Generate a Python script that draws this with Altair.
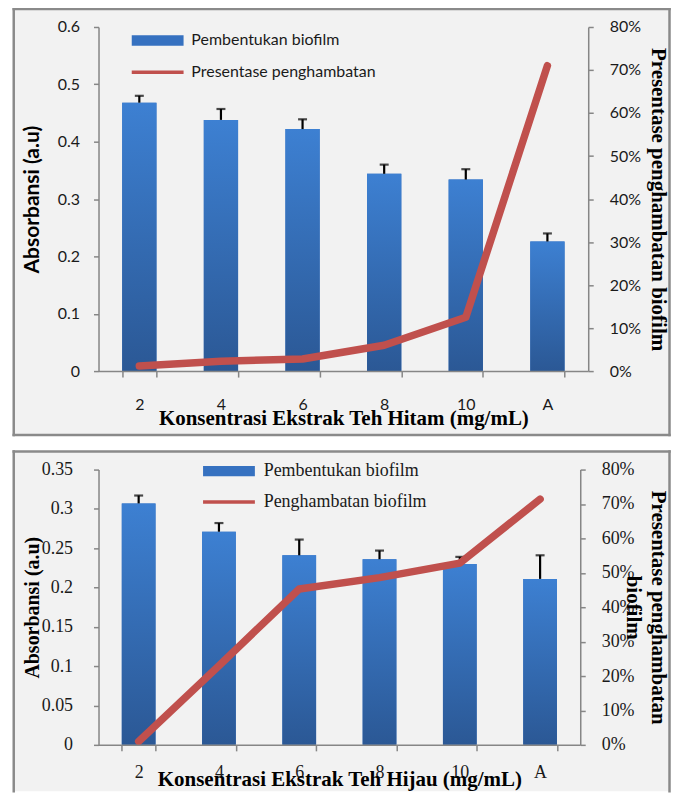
import altair as alt
import pandas as pd

categories = ["2", "4", "6", "8", "10", "A"]

hitam_absorbansi = [0.468, 0.438, 0.422, 0.344, 0.334, 0.226]
hitam_error = [0.012, 0.019, 0.017, 0.016, 0.018, 0.014]
hitam_hambat = [1.2, 2.3, 2.8, 6.0, 12.5, 71.0]

hijau_absorbansi = [0.307, 0.271, 0.241, 0.236, 0.230, 0.211]
hijau_error = [0.010, 0.011, 0.020, 0.011, 0.009, 0.030]
hijau_hambat = [1.0, 23.0, 45.3, 48.6, 52.8, 71.4]

left_ticks_1 = [0, 0.1, 0.2, 0.3, 0.4, 0.5, 0.6]
left_ticks_2 = [0, 0.05, 0.1, 0.15, 0.2, 0.25, 0.3, 0.35]
right_ticks = [0, 10, 20, 30, 40, 50, 60, 70, 80]

BLUE_TOP = "#3d80d2"
BLUE_BOTTOM = "#2b5895"
BLUE_LEGEND = "#3671c0"
RED = "#c0504d"
AXIS_GRAY = "#868686"
PANEL_BG = "#f2f2f2"
PANEL_BORDER = "#8a8a8a"
TEXT = "#1a1a1a"

SANS = "Lato"
SERIF = "Liberation Serif"

bar_gradient = alt.Gradient(
    gradient="linear",
    stops=[alt.GradientStop(color=BLUE_TOP, offset=0),
           alt.GradientStop(color=BLUE_BOTTOM, offset=1)],
    x1=0, x2=0, y1=0, y2=1,
)

RECT_PATH = "M-5,-1H5V1H-5Z"
LINE_PATH = "M-5,0H5"

one_row = pd.DataFrame({"panel": [0]})


def make_panel(absorb, err, hambat, p):
    df = pd.DataFrame({
        "kategori": categories,
        "absorbansi": absorb,
        "atas": [a + e for a, e in zip(absorb, err)],
        "hambat": hambat,
        "seri_bar": [p["bar_label"]] * len(categories),
        "seri_garis": [p["line_label"]] * len(categories),
    })
    base = alt.Chart(df)

    x_axis = alt.Axis(
        orient="bottom", labelAngle=0, tickBand="extent", tickSize=6,
        tickColor=AXIS_GRAY, tickWidth=1.5, domainColor=AXIS_GRAY, domainWidth=1.5,
        labelFont=p["tick_font"], labelFontSize=p["tick_size"], labelColor=TEXT,
        labelPadding=p["x_label_pad"], labelOverlap=False,
        title=p["x_title"], titleFont=SERIF, titleFontSize=21, titleFontWeight="bold",
        titleColor="#000000", titleY=p["x_title_y"], titleBaseline="middle",
        zindex=1,
    )
    x_enc = alt.X("kategori:N", sort=categories,
                  scale=alt.Scale(paddingInner=0.58, paddingOuter=0.29),
                  axis=x_axis)

    left_axis = alt.Axis(
        orient="left", values=p["left_ticks"], format=p["left_fmt"], grid=False,
        labelOverlap=False,
        tickSize=5, tickColor=AXIS_GRAY, tickWidth=1.5, domainColor=AXIS_GRAY, domainWidth=1.5,
        labelFont=p["tick_font"], labelFontSize=p["tick_size"], labelColor=TEXT,
        labelPadding=p["left_label_pad"],
        title=p["left_title"], titleFont=p["left_title_font"], titleFontSize=p["left_title_size"],
        titleFontWeight="bold", titleColor="#000000", titleAngle=270,
        titleX=p["left_title_x"], titleBaseline="middle", zindex=1,
    )
    left_scale = alt.Scale(domain=p["left_domain"], nice=False)

    right_axis = alt.Axis(
        orient="right", values=right_ticks, labelExpr="datum.value + '%'", grid=False,
        labelOverlap=False,
        tickSize=5, tickColor=AXIS_GRAY, tickWidth=1.5, domainColor=AXIS_GRAY, domainWidth=1.5,
        labelFont=p["tick_font"], labelFontSize=p["tick_size"], labelColor=TEXT, labelPadding=16,
        title=p["right_title"], titleFont=SERIF, titleFontSize=21, titleFontWeight="bold",
        titleColor="#000000", titleAngle=90, titleX=p["right_title_x"], titleBaseline="middle",
        titleLineHeight=25, zindex=1,
    )

    bx0, bx1, by0, by1 = p["box"]
    frame = alt.Chart(one_row)
    background = frame.mark_rect(fill=PANEL_BG, strokeWidth=0).encode(
        x=alt.value(bx0), x2=alt.value(bx1), y=alt.value(by0), y2=alt.value(by1))
    border_kw = dict(color=PANEL_BORDER, strokeWidth=2.5, strokeCap="square")
    border_left = frame.mark_rule(**border_kw).encode(
        x=alt.value(bx0), y=alt.value(by0), y2=alt.value(by1))
    border_right = frame.mark_rule(**border_kw).encode(
        x=alt.value(bx1), y=alt.value(by0), y2=alt.value(by1))
    border_top = frame.mark_rule(**border_kw).encode(
        x=alt.value(bx0), x2=alt.value(bx1), y=alt.value(by0))
    frame_layers = [background, border_left, border_right, border_top]
    if p["bottom_border"]:
        frame_layers.append(frame.mark_rule(**border_kw).encode(
            x=alt.value(bx0), x2=alt.value(bx1), y=alt.value(by1)))

    legend_bar = alt.Legend(
        orient="none", legendX=p["legend_x"], legendY=p["legend_y_bar"], title=None,
        symbolType=RECT_PATH, symbolSize=108, symbolStrokeWidth=0, symbolOpacity=1,
        labelFont=p["legend_font"], labelFontSize=p["legend_size"], labelColor=TEXT,
        labelOffset=25.8, labelLimit=400, padding=0,
    )
    legend_line = alt.Legend(
        orient="none", legendX=p["legend_x"], legendY=p["legend_y_line"], title=None,
        symbolType=LINE_PATH, symbolSize=108, symbolStrokeWidth=3.5, symbolOpacity=1,
        labelFont=p["legend_font"], labelFontSize=p["legend_size"], labelColor=TEXT,
        labelOffset=25.8, labelLimit=400, padding=0,
    )

    bars_legend = base.mark_bar().encode(
        x=x_enc,
        y=alt.Y("absorbansi:Q", scale=left_scale, axis=left_axis),
        fill=alt.Fill("seri_bar:N", scale=alt.Scale(range=[BLUE_LEGEND]), legend=legend_bar),
    )
    bars = base.mark_bar(fill=bar_gradient).encode(
        x=x_enc, y=alt.Y("absorbansi:Q", scale=left_scale, axis=left_axis))
    err_rule = base.mark_rule(color="#000000", strokeWidth=2.2).encode(
        x=x_enc, y=alt.Y("absorbansi:Q", scale=left_scale, axis=left_axis), y2="atas:Q")
    err_cap = base.mark_tick(color="#000000", thickness=2.2, size=9).encode(
        x=x_enc, y=alt.Y("atas:Q", scale=left_scale, axis=left_axis))

    left_layer = alt.layer(bars_legend, bars, err_rule, err_cap)

    line = base.mark_line(strokeWidth=7.5, strokeCap="round", strokeJoin="round").encode(
        x=x_enc,
        y=alt.Y("hambat:Q", scale=alt.Scale(domain=[0, 80], nice=False), axis=right_axis),
        stroke=alt.Stroke("seri_garis:N", scale=alt.Scale(range=[RED]), legend=legend_line),
    )

    return alt.layer(*frame_layers, left_layer, line).resolve_scale(
        y="independent", fill="independent", stroke="independent"
    ).properties(width=p["width"], height=p["height"])


# Both panels share the same plot-area left edge (98 px from the page edge),
# because the vertical concatenation aligns the plot origins.
panel1 = make_panel(hitam_absorbansi, hitam_error, hitam_hambat, dict(
    width=491, height=345, box=(-85, 572.5, -18, 409), bottom_border=True,
    left_domain=[0, 0.6], left_ticks=left_ticks_1, left_fmt=".1~f", left_label_pad=14,
    tick_font=SANS, tick_size=16,
    left_title="Absorbansi (a.u)", left_title_font=SANS, left_title_size=21, left_title_x=-66,
    right_title="Presentase penghambatan biofilm", right_title_x=69,
    x_title="Konsentrasi  Ekstrak Teh Hitam (mg/mL)", x_title_y=48, x_label_pad=20,
    legend_font=SANS, legend_size=16, legend_x=51.3, legend_y_bar=5.5, legend_y_line=37.5,
    bar_label="Pembentukan biofilm", line_label="Presentase penghambatan",
))

panel2 = make_panel(hijau_absorbansi, hijau_error, hijau_hambat, dict(
    width=483, height=276, box=(-85, 572.5, -18, 322.5), bottom_border=False,
    left_domain=[0, 0.35], left_ticks=left_ticks_2, left_fmt=".2~f", left_label_pad=21,
    tick_font=SERIF, tick_size=18,
    left_title="Absorbansi (a.u)", left_title_font=SERIF, left_title_size=20, left_title_x=-66,
    right_title=["Presentase penghambatan", "biofilm"], right_title_x=77,
    x_title="Konsentrasi  Ekstrak Teh Hijau (mg/mL)", x_title_y=35, x_label_pad=13,
    legend_font=SERIF, legend_size=18, legend_x=121.8, legend_y_bar=-7.5, legend_y_line=23.5,
    bar_label="Pembentukan biofilm", line_label="Penghambatan  biofilm",
))

chart = alt.vconcat(panel1, panel2, spacing=12.75).resolve_scale(
    fill="independent", stroke="independent"
).resolve_legend(fill="independent", stroke="independent").properties(
    padding={"left": 3.75, "top": -2, "right": 0, "bottom": 0}
).configure_view(strokeWidth=0)

chart.save("out.html", embed_options={"renderer": "svg", "actions": False})
